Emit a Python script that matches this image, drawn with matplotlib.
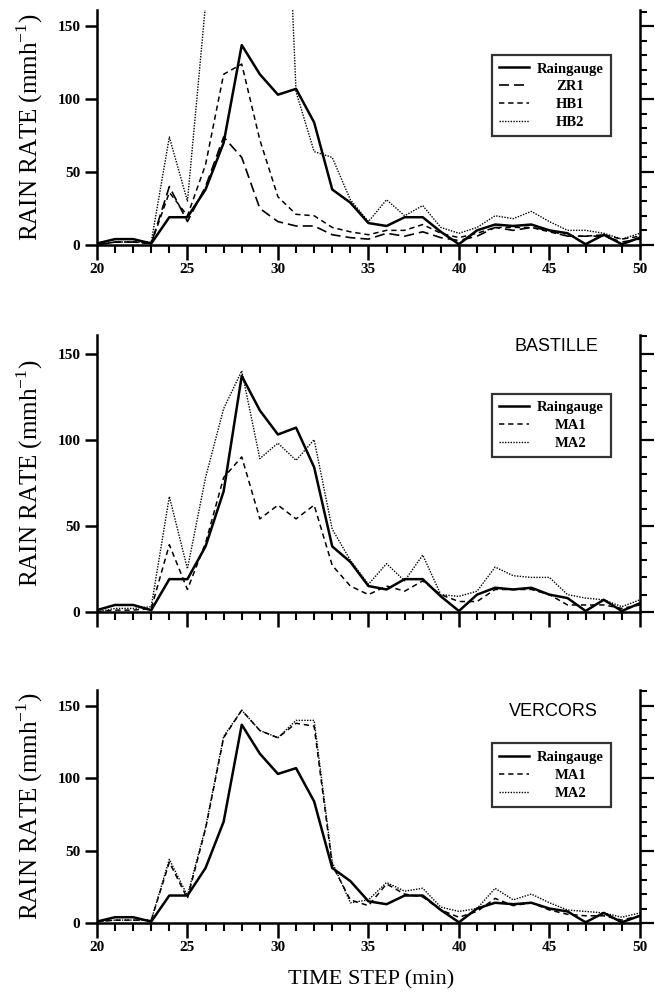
import matplotlib
matplotlib.use("Agg")
import matplotlib.pyplot as plt
from matplotlib.ticker import MultipleLocator

# time steps (min)
t = list(range(20, 51))

raingauge = [1, 4, 4, 1, 19, 19, 38, 70, 137, 117, 103, 107, 84, 38, 29, 15,
             13, 19, 19, 9, 0.5, 10, 14, 13, 14, 10, 8, 0.5, 7, 0.5, 5]

# panel 1 (radar relations)
zr1 = [0, 2, 2, 1, 40, 16, 40, 74, 60, 25, 16, 13, 13, 7, 5, 4,
       8, 6, 9, 5, 3, 6, 12, 10, 12, 10, 6, 6, 6, 2, 4]
hb1 = [0, 2, 2, 1, 36, 20, 55, 117, 124, 72, 33, 21, 20, 12, 9, 7,
       10, 10, 14, 8, 5, 8, 12, 12, 12, 9, 6, 6, 7, 4, 6]
hb2 = [0, 2, 2, 2, 74, 30, 165, 400, 500, 600, 400, 105, 64, 60, 31, 16,
       31, 20, 27, 12, 8, 12, 20, 18, 23, 16, 10, 10, 8, 4, 8]

# panel 2 (Bastille)
bas_ma1 = [0, 1, 1, 2, 39, 13, 40, 78, 90, 54, 62, 54, 62, 27, 15, 10,
           15, 12, 18, 10, 6, 6, 13, 13, 13, 10, 4, 4, 4, 2, 4]
bas_ma2 = [0, 2, 2, 3, 67, 25, 78, 118, 140, 89, 98, 88, 100, 48, 30, 16,
           28, 18, 33, 10, 9, 12, 26, 21, 20, 20, 10, 8, 7, 3, 7]

# panel 3 (Vercors)
ver_ma1 = [1, 2, 2, 2, 42, 17, 65, 128, 147, 133, 128, 138, 136, 40, 16, 12,
           27, 20, 18, 9, 4, 8, 17, 12, 14, 9, 6, 5, 5, 2, 5]
ver_ma2 = [1, 2, 2, 2, 44, 19, 66, 129, 147, 133, 128, 140, 140, 42, 14, 16,
           28, 22, 24, 11, 8, 10, 24, 16, 20, 14, 9, 8, 7, 4, 7]

SERIF = ["Liberation Serif", "DejaVu Serif"]
SANS = ["Liberation Sans", "DejaVu Sans"]

fig = plt.figure(figsize=(6.55, 10.08), dpi=100)

panels = [
    # rect, series, title, title pos, legend centre
    ([0.148, 0.757, 0.829, 0.233],
     [(raingauge, "Raingauge", "-", 1.8),
      (zr1, "ZR1", (0, (6, 3)), 1.2),
      (hb1, "HB1", (0, (3.5, 2.5)), 1.1),
      (hb2, "HB2", (0, (1, 1)), 1.0)],
     None, None, (0.842, 0.905)),
    ([0.148, 0.393, 0.829, 0.275],
     [(raingauge, "Raingauge", "-", 1.8),
      (bas_ma1, "MA1", (0, (3.5, 2.5)), 1.1),
      (bas_ma2, "MA2", (0, (1, 1)), 1.0)],
     "BASTILLE", (0.847, 0.957), (0.842, 0.578)),
    ([0.148, 0.0843, 0.829, 0.2312],
     [(raingauge, "Raingauge", "-", 1.8),
      (ver_ma1, "MA1", (0, (3.5, 2.5)), 1.1),
      (ver_ma2, "MA2", (0, (1, 1)), 1.0)],
     "VERCORS", (0.84, 0.906), (0.842, 0.231)),
]

legends = []
for i, (rect, series, title, tpos, leg_pos) in enumerate(panels):
    ax = fig.add_axes(rect)
    handles = []
    for vals, lab, ls, lw in series:
        h, = ax.plot(t, vals, color="black", linestyle=ls, lw=lw, label=lab)
        handles.append(h)
    ax.set_xlim(20, 50)
    ax.set_ylim(0, 161)

    ax.spines["top"].set_visible(False)
    for s in ["left", "bottom", "right"]:
        ax.spines[s].set_linewidth(1.8)

    ax.xaxis.set_major_locator(MultipleLocator(5))
    ax.xaxis.set_minor_locator(MultipleLocator(1))
    ax.yaxis.set_major_locator(MultipleLocator(50))
    ax.tick_params(axis="x", which="major", direction="out", length=11, width=1.8,
                   pad=2)
    ax.tick_params(axis="x", which="minor", direction="out", length=6, width=1.5)
    ax.tick_params(axis="y", which="major", direction="out", length=9, width=1.8,
                   left=True, right=False, pad=3)
    ax.tick_params(axis="y", which="minor", left=False, right=False)

    # right spine: outward ticks every 10, longer every 50
    axr = ax.twinx()
    axr.set_ylim(ax.get_ylim())
    axr.yaxis.set_major_locator(MultipleLocator(50))
    axr.yaxis.set_minor_locator(MultipleLocator(10))
    axr.tick_params(axis="y", which="major", direction="out", length=10,
                    width=1.6, labelright=False)
    axr.tick_params(axis="y", which="minor", direction="out", length=5,
                    width=1.5)
    for s in axr.spines.values():
        s.set_visible(False)

    for lbl in ax.get_xticklabels() + ax.get_yticklabels():
        lbl.set_fontfamily(SERIF)
        lbl.set_fontweight("bold")
        lbl.set_fontsize(11)
    if i == 1:
        ax.set_xticklabels([])

    ax.set_ylabel("RAIN RATE (mmh$^{\\mathregular{-1}}$)", fontsize=18,
                  family=SERIF)
    ax.yaxis.set_label_coords(-0.096, 0.5)

    leg = ax.legend(handles=handles, loc="center", bbox_to_anchor=leg_pos,
                    bbox_transform=fig.transFigure,
                    prop={"family": SERIF, "weight": "bold", "size": 10.5},
                    frameon=True, fancybox=False, handlelength=2.05,
                    borderpad=0.5, labelspacing=0.32, handletextpad=0.55,
                    borderaxespad=0)
    leg.get_frame().set_edgecolor("black")
    leg.get_frame().set_linewidth(1.6)
    legends.append(leg)

    if title:
        ax.text(tpos[0], tpos[1], title, transform=ax.transAxes, ha="center",
                va="center", fontsize=13, family=SANS)

fig.text(0.567, 0.028, "TIME STEP (min)", ha="center", va="center",
         fontsize=16, family=SERIF)

# centre the legend labels within their column
renderer = fig.canvas.get_renderer()
for leg in legends:
    texts = leg.get_texts()
    widths = [tx.get_window_extent(renderer).width for tx in texts]
    wmax = max(widths)
    for tx, w in zip(texts, widths):
        tx.set_x((wmax - w) / 2.0)

fig.savefig("out.png", dpi=100)
